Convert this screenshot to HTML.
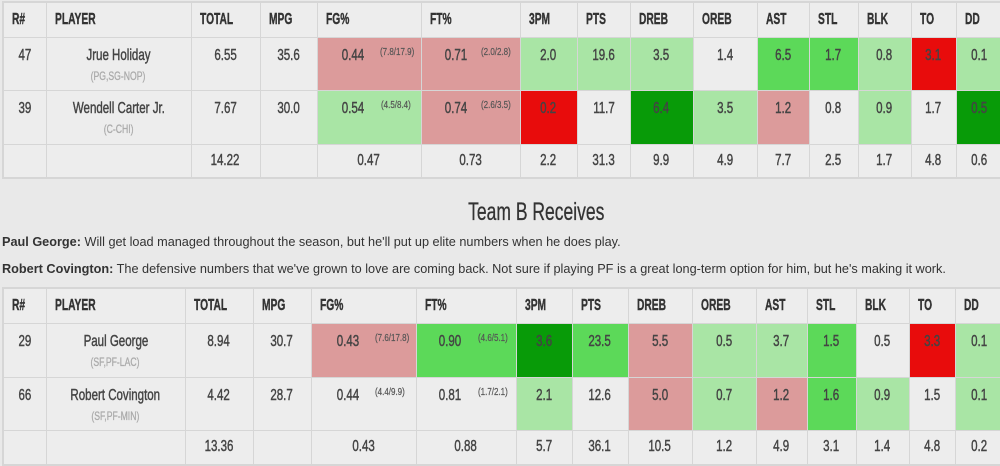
<!DOCTYPE html>
<html><head><meta charset="utf-8"><style>
html,body{margin:0;padding:0;}
body{width:1000px;height:466px;overflow:hidden;background:#e9e9e9;position:relative;font-family:"Liberation Sans",Arial,sans-serif;}
table{position:absolute;left:2px;border-collapse:collapse;table-layout:fixed;width:1000px;border:2px solid #d6d6d6;}
td,th{border:1px solid #d6d6d6;padding:0;background:#ededed;color:#444;font-size:16px;line-height:20px;overflow:hidden;}
th{text-align:left;vertical-align:middle;font-weight:bold;color:#333;padding-left:8px;}
th span{display:inline-block;transform:scaleX(.64);transform-origin:left center;white-space:nowrap;-webkit-text-stroke:0.4px #333;}
td{text-align:center;vertical-align:top;padding-top:8px;position:relative;}
.s{display:inline-block;transform:scaleX(.72);white-space:nowrap;-webkit-text-stroke:0.45px #444;}
.pos{display:block;font-size:12px;color:#aaa;line-height:20px;}
.pos span{display:inline-block;transform:scaleX(.72);white-space:nowrap;-webkit-text-stroke:0.3px #aaa;}
tr.tot td{vertical-align:middle;padding-top:0;}
.v{position:absolute;top:8px;white-space:nowrap;transform:translateX(-50%) scaleX(.72);-webkit-text-stroke:0.45px #444;}
.sub{position:absolute;top:10px;font-size:10px;line-height:10px;white-space:nowrap;transform:scaleX(.8);transform-origin:left center;color:#555;-webkit-text-stroke:0.2px #555;}
.R{background:#dc9b9b;}
.G1{background:#a9e5a5;}
.G2{background:#5cd959;}
.G3{background:#089b08;}
.RR{background:#e80c0c;}
h2{position:absolute;left:386px;width:300px;top:197px;margin:0;text-align:center;font-weight:normal;font-size:25px;line-height:30px;color:#333;}
h2 span{display:inline-block;transform:scaleX(.70);white-space:nowrap;-webkit-text-stroke:0.3px #333;}
p{position:absolute;left:2px;margin:0;font-size:12.7px;line-height:16px;color:#333;white-space:nowrap;}
</style></head><body>

<table style="top:1px;">
<colgroup><col style="width:43px"><col style="width:145px"><col style="width:69px"><col style="width:57px"><col style="width:104px"><col style="width:99px"><col style="width:57px"><col style="width:53px"><col style="width:63px"><col style="width:64px"><col style="width:52px"><col style="width:49px"><col style="width:53px"><col style="width:45px"><col style="width:47px"></colgroup>
<tr style="height:35px"><th><span>R#</span></th><th><span>PLAYER</span></th><th><span>TOTAL</span></th><th><span>MPG</span></th><th><span>FG%</span></th><th><span>FT%</span></th><th><span>3PM</span></th><th><span>PTS</span></th><th><span>DREB</span></th><th><span>OREB</span></th><th><span>AST</span></th><th><span>STL</span></th><th><span>BLK</span></th><th><span>TO</span></th><th><span>DD</span></th></tr>
<tr style="height:53px"><td><span class="s">47</span></td><td><span class="s">Jrue Holiday</span><span class="pos"><span>(PG,SG-NOP)</span></span></td><td><span class="s">6.55</span></td><td><span class="s">35.6</span></td><td class="R"><span class="v" style="left:35px">0.44</span><span class="sub" style="left:62px">(7.8/17.9)</span></td><td class="R"><span class="v" style="left:34px">0.71</span><span class="sub" style="left:59px">(2.0/2.8)</span></td><td class="G1"><span class="s">2.0</span></td><td class="G1"><span class="s">19.6</span></td><td class="G1"><span class="s">3.5</span></td><td><span class="s">1.4</span></td><td class="G2"><span class="s">6.5</span></td><td class="G2"><span class="s">1.7</span></td><td class="G1"><span class="s">0.8</span></td><td class="RR"><span class="s">3.1</span></td><td class="G1"><span class="s">0.1</span></td></tr>
<tr style="height:54px"><td><span class="s">39</span></td><td><span class="s">Wendell Carter Jr.</span><span class="pos"><span>(C-CHI)</span></span></td><td><span class="s">7.67</span></td><td><span class="s">30.0</span></td><td class="G1"><span class="v" style="left:35px">0.54</span><span class="sub" style="left:63px">(4.5/8.4)</span></td><td class="R"><span class="v" style="left:34px">0.74</span><span class="sub" style="left:59px">(2.6/3.5)</span></td><td class="RR"><span class="s">0.2</span></td><td><span class="s">11.7</span></td><td class="G3"><span class="s">6.4</span></td><td class="G1"><span class="s">3.5</span></td><td class="R"><span class="s">1.2</span></td><td><span class="s">0.8</span></td><td class="G1"><span class="s">0.9</span></td><td><span class="s">1.7</span></td><td class="G3"><span class="s">0.5</span></td></tr>
<tr class="tot" style="height:34px"><td></td><td></td><td><span class="s">14.22</span></td><td></td><td><span class="s">0.47</span></td><td><span class="s">0.73</span></td><td><span class="s">2.2</span></td><td><span class="s">31.3</span></td><td><span class="s">9.9</span></td><td><span class="s">4.9</span></td><td><span class="s">7.7</span></td><td><span class="s">2.5</span></td><td><span class="s">1.7</span></td><td><span class="s">4.8</span></td><td><span class="s">0.6</span></td></tr>
</table>

<h2><span>Team B Receives</span></h2>
<p style="top:234px;"><b>Paul George:</b> Will get load managed throughout the season, but he'll put up elite numbers when he does play.</p>
<p style="top:261px;"><b>Robert Covington:</b> The defensive numbers that we've grown to love are coming back. Not sure if playing PF is a great long-term option for him, but he's making it work.</p>

<table style="top:287px;">
<colgroup><col style="width:43px"><col style="width:139px"><col style="width:68px"><col style="width:58px"><col style="width:105px"><col style="width:100px"><col style="width:56px"><col style="width:56px"><col style="width:64px"><col style="width:64px"><col style="width:51px"><col style="width:49px"><col style="width:53px"><col style="width:46px"><col style="width:48px"></colgroup>
<tr style="height:35px"><th><span>R#</span></th><th><span>PLAYER</span></th><th><span>TOTAL</span></th><th><span>MPG</span></th><th><span>FG%</span></th><th><span>FT%</span></th><th><span>3PM</span></th><th><span>PTS</span></th><th><span>DREB</span></th><th><span>OREB</span></th><th><span>AST</span></th><th><span>STL</span></th><th><span>BLK</span></th><th><span>TO</span></th><th><span>DD</span></th></tr>
<tr style="height:54px"><td><span class="s">29</span></td><td><span class="s">Paul George</span><span class="pos"><span>(SF,PF-LAC)</span></span></td><td><span class="s">8.94</span></td><td><span class="s">30.7</span></td><td class="R"><span class="v" style="left:36px">0.43</span><span class="sub" style="left:63px">(7.6/17.8)</span></td><td class="G2"><span class="v" style="left:33px">0.90</span><span class="sub" style="left:61px">(4.6/5.1)</span></td><td class="G3"><span class="s">3.6</span></td><td class="G2"><span class="s">23.5</span></td><td class="R"><span class="s">5.5</span></td><td class="G1"><span class="s">0.5</span></td><td class="G1"><span class="s">3.7</span></td><td class="G2"><span class="s">1.5</span></td><td><span class="s">0.5</span></td><td class="RR"><span class="s">3.3</span></td><td class="G1"><span class="s">0.1</span></td></tr>
<tr style="height:53px"><td><span class="s">66</span></td><td><span class="s">Robert Covington</span><span class="pos"><span>(SF,PF-MIN)</span></span></td><td><span class="s">4.42</span></td><td><span class="s">28.7</span></td><td><span class="v" style="left:36px">0.44</span><span class="sub" style="left:63px">(4.4/9.9)</span></td><td><span class="v" style="left:33px">0.81</span><span class="sub" style="left:61px">(1.7/2.1)</span></td><td class="G1"><span class="s">2.1</span></td><td><span class="s">12.6</span></td><td class="R"><span class="s">5.0</span></td><td class="G1"><span class="s">0.7</span></td><td class="R"><span class="s">1.2</span></td><td class="G2"><span class="s">1.6</span></td><td class="G1"><span class="s">0.9</span></td><td><span class="s">1.5</span></td><td class="G1"><span class="s">0.1</span></td></tr>
<tr class="tot" style="height:35px"><td></td><td></td><td><span class="s">13.36</span></td><td></td><td><span class="s">0.43</span></td><td><span class="s">0.88</span></td><td><span class="s">5.7</span></td><td><span class="s">36.1</span></td><td><span class="s">10.5</span></td><td><span class="s">1.2</span></td><td><span class="s">4.9</span></td><td><span class="s">3.1</span></td><td><span class="s">1.4</span></td><td><span class="s">4.8</span></td><td><span class="s">0.2</span></td></tr>
</table>

</body></html>
